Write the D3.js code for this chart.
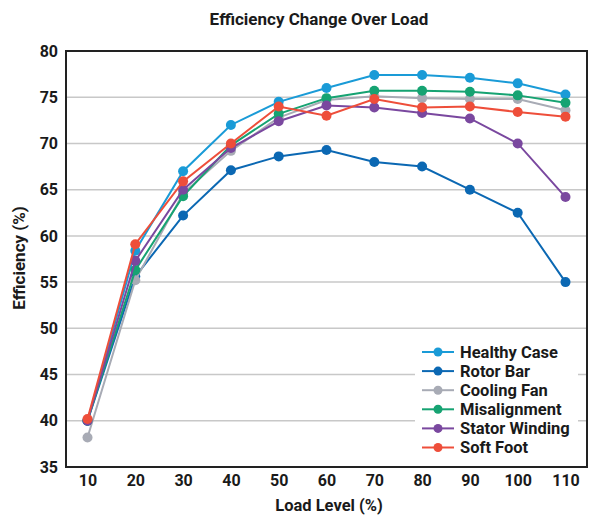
<!DOCTYPE html>
<meta charset="utf-8">
<style>
body{margin:0;background:#fff;}
text{font-family:Roboto, "Noto Sans", sans-serif;font-weight:700;fill:#1a1a1a;}
.grid line{stroke:#c8c8c8;stroke-width:1.5px;}
.series path{fill:none;stroke-width:2px;}
</style>
<body>
<script src="https://d3js.org/d3.v7.min.js"></script>
<script>

var loads = [10, 20, 30, 40, 50, 60, 70, 80, 90, 100, 110];
var yTicks = [35, 40, 45, 50, 55, 60, 65, 70, 75, 80];

var healthy   = [40.0, 58.4, 67.0, 72.0, 74.5, 76.0, 77.4, 77.4, 77.1, 76.5, 75.3];
var rotorBar  = [40.0, 55.6, 62.2, 67.1, 68.6, 69.3, 68.0, 67.5, 65.0, 62.5, 55.0];
var coolFan   = [38.2, 55.2, 64.6, 69.2, 72.8, 74.7, 75.1, 74.9, 74.8, 74.8, 73.6];
var misalign  = [40.0, 56.3, 64.3, 69.8, 73.2, 74.9, 75.7, 75.7, 75.6, 75.2, 74.4];
var stator    = [40.0, 57.3, 65.0, 69.5, 72.4, 74.1, 73.9, 73.3, 72.7, 70.0, 64.2];
var softFoot  = [40.2, 59.1, 65.9, 70.0, 74.0, 73.0, 74.8, 73.9, 74.0, 73.4, 72.9];

var names  = ["Healthy Case", "Rotor Bar", "Cooling Fan", "Misalignment", "Stator Winding", "Soft Foot"];
var colors = ["#1a9bd7", "#0b68b3", "#a8abb5", "#16a372", "#7a489f", "#ee4e3a"];
var series = [healthy, rotorBar, coolFan, misalign, stator, softFoot];

var W = 600, H = 522;
var m = {top: 51, right: 13, bottom: 55, left: 66};
var w = W - m.left - m.right, h = H - m.top - m.bottom;

var svg = d3.select("body").append("svg").attr("width", W).attr("height", H);
var g = svg.append("g").attr("transform", "translate(" + m.left + "," + m.top + ")");

var x = d3.scalePoint().domain(loads).range([0, w]).padding(0.45);
var y = d3.scaleLinear().domain([35, 80]).range([h, 0]);

// gridlines
g.append("g").attr("class", "grid")
  .selectAll("line").data(yTicks.slice(1, -1)).enter().append("line")
  .attr("x1", 0).attr("x2", w)
  .attr("y1", d => y(d)).attr("y2", d => y(d));

// axes (text only, frame drawn separately)
var xAxis = g.append("g").attr("transform", "translate(0," + h + ")")
  .call(d3.axisBottom(x).tickSize(0).tickPadding(8));
var yAxis = g.append("g")
  .call(d3.axisLeft(y).tickValues(yTicks).tickSize(0).tickPadding(8));
[xAxis, yAxis].forEach(function(a){
  a.select(".domain").remove();
  a.selectAll("text").style("font-size", "16px").style("font-family", "Roboto, sans-serif").attr("fill", "#1a1a1a");
});

// series
var line = d3.line().x((d, i) => x(loads[i])).y(d => y(d));
series.forEach(function(s, k){
  var sg = g.append("g").attr("class", "series");
  sg.append("path").attr("d", line(s)).attr("stroke", colors[k]);
  sg.selectAll("circle").data(s).enter().append("circle")
    .attr("cx", (d, i) => x(loads[i])).attr("cy", d => y(d))
    .attr("r", 5).attr("fill", colors[k]);
});

// legend
var lg = g.append("g").attr("transform", "translate(" + (415 - m.left) + "," + (337 - m.top) + ")");
lg.append("rect").attr("width", 163).attr("height", 122).attr("fill", "#fff");
names.forEach(function(n, k){
  var row = lg.append("g").attr("transform", "translate(0," + (15 + k * 19.1) + ")");
  row.append("line").attr("x1", 7).attr("x2", 39).attr("stroke", colors[k]).attr("stroke-width", 2);
  row.append("circle").attr("cx", 23).attr("r", 4.5).attr("fill", colors[k]);
  row.append("text").attr("x", 45).attr("dy", "0.35em").style("font-size", "16.5px").text(n);
});

// frame
g.append("rect").attr("width", w).attr("height", h)
  .attr("fill", "none").attr("stroke", "#222").attr("stroke-width", 2);

// titles
svg.append("text").attr("x", 319).attr("y", 25).attr("text-anchor", "middle")
  .style("font-size", "17px").text("Efficiency Change Over Load");
svg.append("text").attr("x", 329).attr("y", 511).attr("text-anchor", "middle")
  .style("font-size", "16.5px").text("Load Level (%)");
svg.append("text").attr("transform", "translate(25,258) rotate(-90)").attr("text-anchor", "middle")
  .style("font-size", "17px").text("Efficiency (%)");

</script>
</body>
